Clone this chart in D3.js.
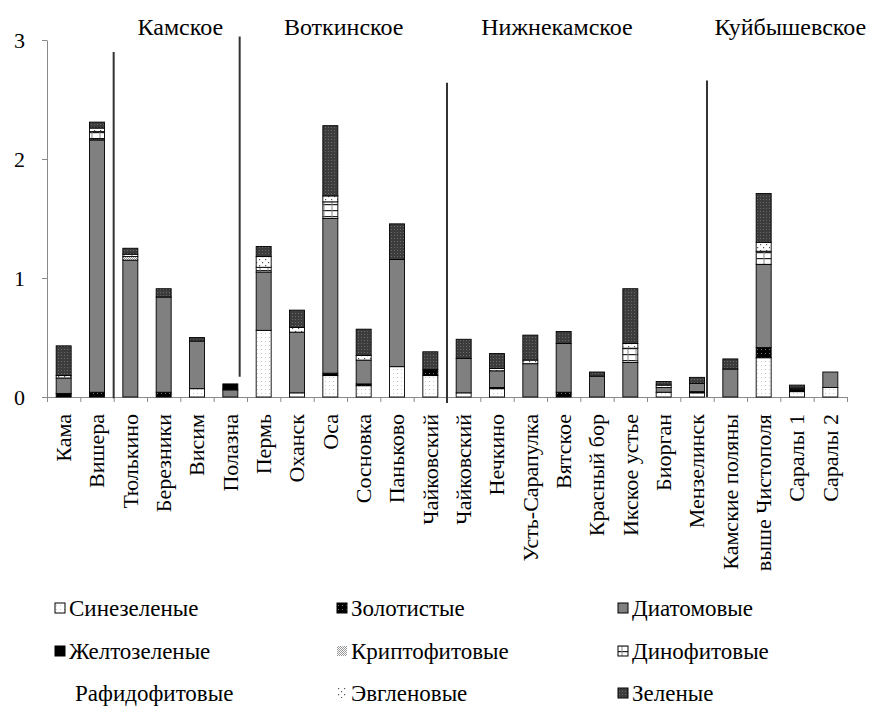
<!DOCTYPE html>
<html lang="ru">
<head>
<meta charset="utf-8">
<script src="https://cdn.jsdelivr.net/npm/d3@7"></script>
<style>
  body { margin: 0; background: #fff; }
  svg, svg text { font-family: "Liberation Serif", "Times New Roman", serif !important; }
</style>
</head>
<body>
<script>
// Data
const categories = ["Кама", "Вишера", "Тюлькино", "Березники", "Висим", "Полазна", "Пермь", "Оханск", "Оса",
    "Сосновка", "Паньково", "Чайковский", "Чайковский", "Нечкино", "Усть-Сарапулка", "Вятское", "Красный бор",
    "Икское устье", "Биорган", "Мензелинск", "Камские поляны", "выше Чистополя", "Саралы 1", "Саралы 2"];

const seriesNames = ["Синезеленые", "Золотистые", "Диатомовые", "Желтозеленые", "Криптофитовые",
    "Динофитовые", "Рафидофитовые", "Эвгленовые", "Зеленые"];

const sinezelenye   = [0, 0, 0, 0, 0.07, 0, 0.56, 0.035, 0.18, 0.095, 0.255, 0.18, 0.035, 0.07, 0, 0, 0, 0, 0.04, 0.035, 0, 0.33, 0.045, 0.08];
const zolotistye    = [0.03, 0.04, 0, 0.04, 0, 0, 0, 0, 0.02, 0.015, 0, 0.05, 0, 0.01, 0, 0.04, 0, 0, 0, 0.01, 0, 0.085, 0.02, 0];
const diatomovye    = [0.13, 2.12, 1.15, 0.80, 0.40, 0.06, 0.49, 0.51, 1.30, 0.20, 0.90, 0, 0.29, 0.14, 0.28, 0.41, 0.175, 0.29, 0.04, 0.07, 0.235, 0.70, 0.01, 0.13];
const zheltozelenye = [0, 0, 0, 0, 0, 0.05, 0, 0, 0, 0, 0, 0, 0, 0, 0, 0, 0, 0, 0, 0, 0, 0, 0, 0];
const kriptofitovye = [0, 0.01, 0.03, 0, 0, 0, 0, 0, 0, 0, 0, 0, 0, 0, 0, 0, 0, 0, 0, 0, 0, 0, 0, 0];
const dinofitovye   = [0, 0.06, 0.02, 0, 0, 0, 0.04, 0, 0.14, 0, 0, 0, 0, 0, 0, 0, 0, 0.12, 0, 0, 0, 0.11, 0, 0];
const rafidofitovye = [0, 0, 0, 0, 0, 0, 0, 0, 0, 0, 0, 0, 0, 0, 0, 0, 0, 0, 0, 0, 0, 0, 0, 0];
const evglenovye    = [0.02, 0.03, 0, 0, 0, 0, 0.09, 0.04, 0.05, 0.04, 0, 0, 0, 0.02, 0.03, 0, 0, 0.04, 0.02, 0, 0, 0.075, 0, 0];
const zelenye       = [0.25, 0.05, 0.05, 0.07, 0.03, 0, 0.085, 0.145, 0.59, 0.22, 0.30, 0.15, 0.16, 0.125, 0.21, 0.10, 0.035, 0.46, 0.03, 0.05, 0.085, 0.41, 0.025, 0];

const yTicks = [0, 1, 2, 3];

// reservoir names and separator lines (category-boundary index, top/bottom value)
const reservoirs = [
    {name: "Камское", at: 4.0},
    {name: "Воткинское", at: 8.9},
    {name: "Нижнекамское", at: 15.3},
    {name: "Куйбышевское", at: 22.3}
];
const separators = [
    {at: 2, top: 2.9, bottom: -0.01},
    {at: 5.78, top: 3.03, bottom: 0.17},
    {at: 12, top: 2.64, bottom: -0.05},
    {at: 19.8, top: 2.66, bottom: 0}
];

const allSeries = [sinezelenye, zolotistye, diatomovye, zheltozelenye, kriptofitovye,
    dinofitovye, rafidofitovye, evglenovye, zelenye];

const table = categories.map((c, i) => {
    const row = {idx: i};
    seriesNames.forEach((s, k) => row[s] = allSeries[k][i]);
    return row;
});

const width = 879, height = 706;
const plotLeft = 47, plotRight = 847, plotTop = 40, plotBottom = 397;
const serif = "Liberation Serif, Times New Roman, serif";

const svg = d3.select("body").append("svg")
    .attr("width", width)
    .attr("height", height)
    .attr("font-family", serif);

// Patterns
const defs = svg.append("defs");

function pattern(id, w, h, bg, build) {
    const p = defs.append("pattern")
        .attr("id", id)
        .attr("patternUnits", "userSpaceOnUse")
        .attr("width", w)
        .attr("height", h);
    p.append("rect").attr("width", w).attr("height", h).attr("fill", bg);
    build(p);
}

pattern("p-sine", 4, 4, "#fff", p => {
    p.append("rect").attr("x", 1).attr("y", 1).attr("width", 1).attr("height", 1).attr("fill", "#c8c8c8");
});
pattern("p-zol", 4, 4, "#000", p => {
    p.append("rect").attr("x", 1).attr("y", 1).attr("width", 1).attr("height", 1).attr("fill", "#777");
});
pattern("p-krip", 2, 2, "#fff", p => {
    p.append("rect").attr("width", 1).attr("height", 1).attr("fill", "#999");
    p.append("rect").attr("x", 1).attr("y", 1).attr("width", 1).attr("height", 1).attr("fill", "#999");
});
pattern("p-dino", 8, 6, "#fff", p => {
    p.append("rect").attr("x", 0).attr("y", 0).attr("width", 8).attr("height", 1.2).attr("fill", "#222");
    p.append("rect").attr("x", 3.5).attr("y", 0).attr("width", 1).attr("height", 6).attr("fill", "#888");
});
pattern("p-evg", 6, 6, "#fff", p => {
    p.append("rect").attr("x", 1).attr("y", 1).attr("width", 1.2).attr("height", 1.2).attr("fill", "#555");
    p.append("rect").attr("x", 4).attr("y", 4).attr("width", 1.2).attr("height", 1.2).attr("fill", "#555");
});
pattern("p-zel", 3, 3, "#3c3c3c", p => {
    p.append("rect").attr("x", 1).attr("y", 1).attr("width", 1).attr("height", 1).attr("fill", "#6a6a6a");
});

const fills = {
    "Синезеленые": "url(#p-sine)",
    "Золотистые": "url(#p-zol)",
    "Диатомовые": "#808080",
    "Желтозеленые": "#000",
    "Криптофитовые": "url(#p-krip)",
    "Динофитовые": "url(#p-dino)",
    "Рафидофитовые": "none",
    "Эвгленовые": "url(#p-evg)",
    "Зеленые": "url(#p-zel)"
};

// Scales
const x = d3.scaleBand()
    .domain(d3.range(categories.length))
    .range([plotLeft, plotRight])
    .paddingInner(0.55)
    .paddingOuter(0.275);

const xIdx = d3.scaleLinear()
    .domain([0, categories.length])
    .range([plotLeft, plotRight]);

const y = d3.scaleLinear()
    .domain([0, 3])
    .range([plotBottom, plotTop]);

// Y axis
const yAxis = svg.append("g")
    .attr("transform", `translate(${plotLeft},0)`)
    .call(d3.axisLeft(y).tickValues(yTicks).tickFormat(d3.format("d"))
        .tickSize(5).tickSizeOuter(0).tickPadding(17));
yAxis.attr("font-family", serif).attr("font-size", 22);
yAxis.selectAll("path, line").attr("stroke", "#8a8a8a");
yAxis.selectAll("text").attr("fill", "#000");

// X axis (tick marks between categories)
const xAxis = svg.append("g")
    .attr("transform", `translate(0,${plotBottom})`)
    .call(d3.axisBottom(xIdx).tickValues(d3.range(categories.length + 1)).tickFormat("").tickSize(5).tickSizeOuter(0));
xAxis.selectAll("path, line").attr("stroke", "#8a8a8a");

// Stacked bars
const stack = d3.stack().keys(seriesNames);
const stacked = stack(table);

svg.append("g")
    .selectAll("g")
    .data(stacked)
    .join("g")
    .attr("fill", d => fills[d.key])
    .attr("stroke", d => d.key === "Рафидофитовые" ? "none" : "#000")
    .attr("stroke-width", 0.9)
    .selectAll("rect")
    .data(d => d.filter(s => s[1] - s[0] > 0))
    .join("rect")
    .attr("x", d => x(d.data.idx))
    .attr("width", x.bandwidth())
    .attr("y", d => y(d[1]))
    .attr("height", d => y(d[0]) - y(d[1]));

// Category labels
svg.append("g")
    .selectAll("text")
    .data(categories)
    .join("text")
    .attr("transform", (d, i) => `translate(${x(i) + x.bandwidth() / 2},414) rotate(-90)`)
    .attr("dy", "0.33em")
    .attr("text-anchor", "end")
    .attr("font-family", serif)
    .attr("font-size", 22)
    .text(d => d);

// Separator lines
svg.append("g")
    .selectAll("line")
    .data(separators)
    .join("line")
    .attr("x1", d => xIdx(d.at))
    .attr("x2", d => xIdx(d.at))
    .attr("y1", d => y(d.top))
    .attr("y2", d => y(d.bottom))
    .attr("stroke", "#333")
    .attr("stroke-width", 2);

// Reservoir titles
svg.append("g")
    .selectAll("text")
    .data(reservoirs)
    .join("text")
    .attr("x", d => xIdx(d.at))
    .attr("y", 35)
    .attr("text-anchor", "middle")
    .attr("font-family", serif)
    .attr("font-size", 24)
    .text(d => d.name);

// Legend
const legendCols = [55, 337, 618];
const legendRows = [608, 651, 693];

const legend = svg.append("g")
    .selectAll("g")
    .data(seriesNames)
    .join("g")
    .attr("transform", (d, i) => `translate(${legendCols[i % 3]},${legendRows[Math.floor(i / 3)]})`);

legend.append("rect")
    .attr("x", 0)
    .attr("y", -5)
    .attr("width", 10)
    .attr("height", 10)
    .attr("fill", d => fills[d])
    .attr("stroke", d => (d === "Рафидофитовые" || d === "Криптофитовые" || d === "Эвгленовые") ? "none" : "#000")
    .attr("stroke-width", 1);

legend.append("text")
    .attr("x", d => d === "Рафидофитовые" ? 20 : 14)
    .attr("y", 0)
    .attr("dy", "0.35em")
    .attr("font-family", serif)
    .attr("font-size", 23)
    .text(d => d);
</script>
</body>
</html>
